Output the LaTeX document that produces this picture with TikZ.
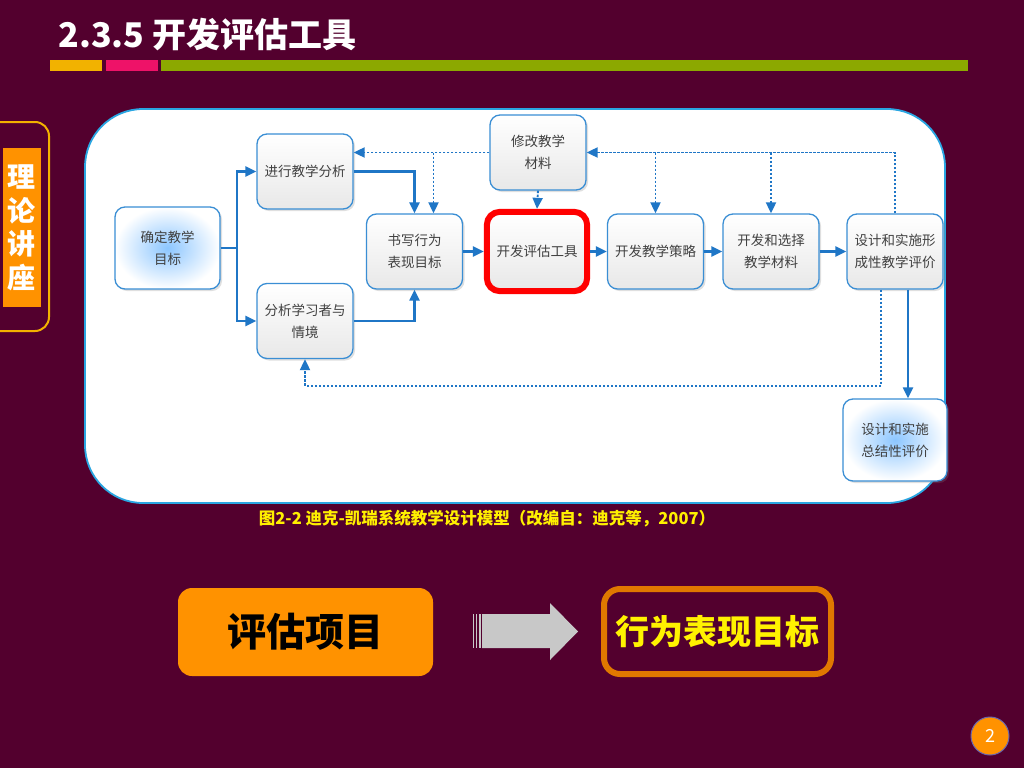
\documentclass[tikz,border=0pt]{standalone}
\usepackage{fontspec}
\setmainfont{Noto Sans CJK SC}
\usepackage{tikz}
\usetikzlibrary{shapes}
\usetikzlibrary{arrows.meta}
\usetikzlibrary{shadows}
\usetikzlibrary{fit}
\usetikzlibrary{calc}
\usetikzlibrary{positioning}
\definecolor{myplum}{HTML}{53002E}
\definecolor{myblue}{HTML}{1F76C6}
\definecolor{myedge}{HTML}{3A8ED4}
\definecolor{mypanel}{HTML}{2AA6E2}
\definecolor{myorange}{HTML}{FF9200}
\definecolor{mydeep}{HTML}{E07800}
\definecolor{mygold}{HTML}{F2B200}
\definecolor{mypink}{HTML}{EE1268}
\definecolor{mygreen}{HTML}{8CA800}
\definecolor{mytext}{HTML}{404040}
\definecolor{myglow}{HTML}{8CC6FF}
\definecolor{myyellow}{HTML}{FFF000}
\definecolor{mygrey}{HTML}{C8C8C8}
\tikzset{every text node part/.style={align=center}}
\tikzstyle{block} = [draw=myedge, line width=1.3pt, rounded corners=10pt, minimum width=96pt, minimum height=75pt, inner sep=2pt, top color=white, bottom color=black!9, text=mytext, font={\fontsize{13.5pt}{22pt}\selectfont}, drop shadow={opacity=0.25, shadow xshift=2pt, shadow yshift=-2pt}]
\tikzstyle{glow} = [block, inner color=myglow, outer color=white]
\tikzstyle{ln} = [draw=myblue, line width=2.2pt, -{Triangle[length=11pt,width=10pt]}]
\tikzstyle{dln} = [ln, line width=1.9pt, dash pattern=on 2.5pt off 1.5pt]

\begin{document}
\begin{tikzpicture}[x=1pt, y=-1pt]
  \useasboundingbox (0,0) rectangle (1024,768);
  \fill[myplum] (0,0) rectangle (1024,768);
  \node[anchor=west, text=white, font={\fontsize{34pt}{38pt}\selectfont\bfseries}] (title) at (55,35) {2.3.5 开发评估工具};
  \fill[mygold] (50,60) rectangle (102,71);
  \fill[mypink] (106,60) rectangle (158,71);
  \fill[mygreen] (161,60) rectangle (968,71);
  \draw[mygold, line width=2pt, rounded corners=14pt] (-20,122) rectangle (49,331);
  \fill[myorange] (3,148) rectangle (41,307);
  \node[text=white, font={\fontsize{28pt}{33.5pt}\selectfont\bfseries}] (tab) at (22,228) {理\\论\\讲\\座};
  \draw[mypanel, line width=1.8pt, fill=white, rounded corners=58pt] (85,109) rectangle (945,503);

  \node[glow, minimum width=105pt, minimum height=82pt] (goal) at (167.5,248) {确定教学\\目标};
  \node[block] (analysis) at (305,171.5) {进行教学分析};
  \node[block] (learner) at (305,321) {分析学习者与\\情境};
  \node[block] (objective) at (414.5,251.5) {书写行为\\表现目标};
  \node[block] (tool) at (537,251.5) {开发评估工具};
  \node[block] (strategy) at (655.5,251.5) {开发教学策略};
  \node[block] (material) at (771,251.5) {开发和选择\\教学材料};
  \node[block] (formative) at (895,251.5) {设计和实施形\\成性教学评价};
  \node[block] (revise) at (538,152.5) {修改教学\\材料};
  \node[glow, minimum width=104pt, minimum height=82pt] (summative) at (895,440) {设计和实施\\总结性评价};
  \node[fit=(tool), inner sep=1.5pt, draw=red, line width=6pt, rounded corners=13pt] (mark) {};

  \draw[ln] (goal.east) -- ++(16,0) |- (analysis.west);
  \draw[ln] (goal.east) -- ++(16,0) |- (learner.west);
  \draw[ln] (analysis.east) -| (objective.north);
  \draw[ln] (learner.east) -| (objective.south);
  \draw[ln] (objective.east) -- (mark.west);
  \draw[ln] (mark.east) -- (strategy.west);
  \draw[ln] (strategy.east) -- (material.west);
  \draw[ln] (material.east) -- (formative.west);
  \draw[ln] ([xshift=13pt]formative.south) -- ([xshift=13pt]summative.north);
  \draw[dln] (formative.north) |- (revise.east);
  \draw[dln] (revise.west) -- (analysis.east |- revise.west);
  \draw[dln] (strategy.north |- revise.east) -- (strategy.north);
  \draw[dln] (material.north |- revise.east) -- (material.north);
  \draw[dln] ([xshift=19pt]objective.north |- revise.west) -- ([xshift=19pt]objective.north);
  \draw[dln] (revise.south) -- (mark.north);
  \draw[dln] ([xshift=-14pt]formative.south) -- ++(0,96) -| (learner.south);

  \node[text=myyellow, font={\fontsize{16.5pt}{19pt}\selectfont\bfseries}] (caption) at (487,519) {图2-2 迪克-凯瑞系统教学设计模型（改编自：迪克等，2007）};

  \node[fill=myorange, rounded corners=14pt, minimum width=255pt, minimum height=88pt, font={\fontsize{39pt}{42pt}\selectfont\bfseries}] (item) at (305.5,632) {评估项目};
  \node[draw=mydeep, line width=6pt, rounded corners=16pt, minimum width=227pt, minimum height=85pt, text=yellow, font={\fontsize{34pt}{38pt}\selectfont\bfseries}] (target) at (717.5,631.5) {行为表现目标};
  \fill[mygrey] (482,614) -- (550,614) -- (550,603) -- (578,631.5) -- (550,660) -- (550,648) -- (482,648) -- cycle;
  \draw[mygrey, line width=1.5pt] (473.5,614) -- (473.5,648);
  \draw[mygrey, line width=1.5pt] (476.5,614) -- (476.5,648);
  \draw[mygrey, line width=2pt] (480,614) -- (480,648);
  \node[circle, fill=myorange, draw=black!50!blue!60, line width=1pt, minimum size=38pt, text=white, font={\fontsize{18pt}{20pt}\selectfont}] (page) at (990,736) {2};
\end{tikzpicture}
\end{document}
